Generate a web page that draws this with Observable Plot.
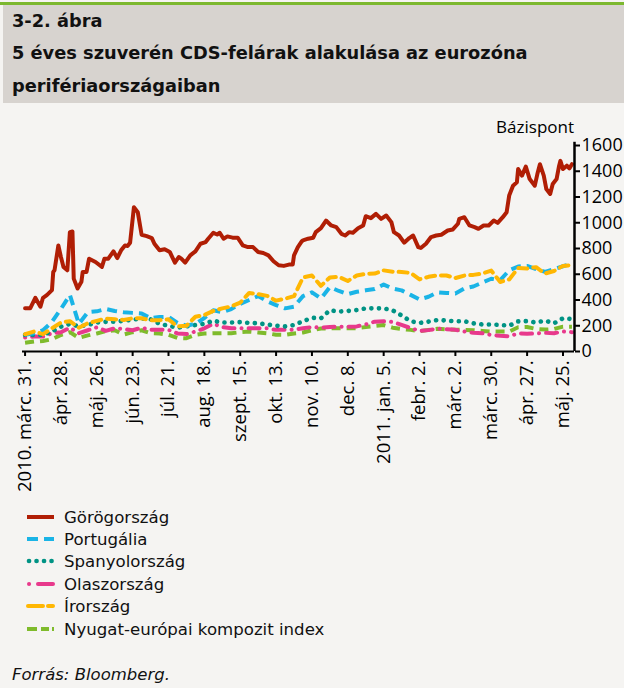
<!DOCTYPE html>
<html><head><meta charset="utf-8">
<script src="https://cdn.jsdelivr.net/npm/d3@7"></script>
<script src="https://cdn.jsdelivr.net/npm/@observablehq/plot@0.6"></script>
<style>
body{margin:0;background:#f5f4f2;width:624px;height:688px;position:relative;overflow:hidden;font-family:"DejaVu Sans",sans-serif;color:#111;}
#topline{position:absolute;left:0;top:2px;width:624px;height:3px;background:#7cb82f;}
#header{position:absolute;left:3px;top:5px;width:621px;height:98px;background:#d7d3cf;}
.t{position:absolute;left:9px;font-weight:bold;font-size:17.8px;white-space:nowrap;line-height:20px;}
#chart{position:absolute;left:0;top:110px;}
#unit{position:absolute;right:50px;top:115px;font-family:"Open Sans";font-size:17px;color:#000;}
.lg{position:absolute;left:26px;height:20px;display:flex;align-items:center;font-size:16.6px;white-space:nowrap;}
.lg svg{margin-right:8px;}
#src{position:absolute;left:12px;top:665px;font-style:italic;font-size:16.5px;}
</style></head>
<body>
<div id="topline"></div>
<div id="header">
  <div class="t" style="top:6px">3-2. ábra</div>
  <div class="t" style="top:38px">5 éves szuverén CDS-felárak alakulása az eurozóna</div>
  <div class="t" style="top:71px">perifériaországaiban</div>
</div>
<div id="unit">Bázispont</div>
<div id="chart"></div>
<div id="legend"></div>
<div id="src">Forrás: Bloomberg.</div>
<script>
// ---- data ----
const tickDates = ["2010-03-31","2010-04-28","2010-05-26","2010-06-23","2010-07-21","2010-08-18","2010-09-15","2010-10-13","2010-11-10","2010-12-08","2011-01-05","2011-02-02","2011-03-02","2011-03-30","2011-04-27","2011-05-25"];
const tickLabels = ["2010. márc. 31.","ápr. 28.","máj. 26.","jún. 23.","júl. 21.","aug. 18.","szept. 15.","okt. 13.","nov. 10.","dec. 8.","2011. jan. 5.","febr. 2.","márc. 2.","márc. 30.","ápr. 27.","máj. 25."];
const yTicks = [0,200,400,600,800,1000,1200,1400,1600];

const greeceDates = ["2010-03-31","2010-04-04","2010-04-08","2010-04-12","2010-04-14","2010-04-17","2010-04-21","2010-04-22","2010-04-23","2010-04-26","2010-04-28","2010-04-30","2010-05-03","2010-05-05","2010-05-07","2010-05-08","2010-05-11","2010-05-14","2010-05-15","2010-05-18","2010-05-20","2010-05-25","2010-05-30","2010-06-01","2010-06-04","2010-06-08","2010-06-11","2010-06-14","2010-06-17","2010-06-19","2010-06-21","2010-06-24","2010-06-27","2010-06-30","2010-07-04","2010-07-08","2010-07-10","2010-07-14","2010-07-18","2010-07-22","2010-07-26","2010-07-29","2010-07-31","2010-08-03","2010-08-07","2010-08-11","2010-08-15","2010-08-19","2010-08-21","2010-08-25","2010-08-28","2010-08-30","2010-09-02","2010-09-05","2010-09-09","2010-09-13","2010-09-17","2010-09-21","2010-09-25","2010-09-29","2010-10-03","2010-10-07","2010-10-11","2010-10-15","2010-10-19","2010-10-23","2010-10-26","2010-10-27","2010-10-30","2010-11-02","2010-11-03","2010-11-07","2010-11-11","2010-11-13","2010-11-17","2010-11-21","2010-11-25","2010-11-29","2010-12-03","2010-12-06","2010-12-09","2010-12-12","2010-12-16","2010-12-20","2010-12-22","2010-12-26","2010-12-30","2011-01-03","2011-01-07","2011-01-11","2011-01-13","2011-01-17","2011-01-21","2011-01-25","2011-01-28","2011-02-01","2011-02-03","2011-02-07","2011-02-11","2011-02-15","2011-02-19","2011-02-24","2011-02-28","2011-03-04","2011-03-05","2011-03-09","2011-03-13","2011-03-17","2011-03-20","2011-03-24","2011-03-28","2011-04-01","2011-04-04","2011-04-08","2011-04-11","2011-04-13","2011-04-16","2011-04-19","2011-04-20","2011-04-23","2011-04-26","2011-04-29","2011-05-03","2011-05-05","2011-05-07","2011-05-10","2011-05-12","2011-05-15","2011-05-17","2011-05-20","2011-05-22","2011-05-23","2011-05-25","2011-05-28","2011-05-30","2011-06-01"];
const greece = [335,335,417,348,417,438,477,618,631,824,734,657,631,927,932,566,489,541,618,618,721,695,657,721,721,778,726,786,824,819,845,1120,1082,907,896,881,837,786,794,773,690,734,721,690,747,778,837,850,876,922,909,922,876,894,884,884,824,811,811,773,765,747,701,670,665,675,675,747,811,855,863,876,884,927,958,1017,979,966,914,901,927,922,958,979,1051,1036,1069,1030,1056,1005,927,901,845,881,901,811,804,837,889,901,907,940,948,992,1030,1043,979,966,953,979,979,1017,999,1043,1082,1211,1288,1314,1417,1366,1437,1339,1288,1378,1455,1366,1262,1224,1301,1339,1443,1481,1417,1443,1422,1455];

const weekDates = ["2010-03-31","2010-04-07","2010-04-14","2010-04-21","2010-04-28","2010-05-05","2010-05-12","2010-05-19","2010-05-26","2010-06-02","2010-06-09","2010-06-16","2010-06-23","2010-06-30","2010-07-07","2010-07-14","2010-07-21","2010-07-28","2010-08-04","2010-08-11","2010-08-18","2010-08-25","2010-09-01","2010-09-08","2010-09-15","2010-09-22","2010-09-29","2010-10-06","2010-10-13","2010-10-20","2010-10-27","2010-11-03","2010-11-10","2010-11-17","2010-11-24","2010-12-01","2010-12-08","2010-12-15","2010-12-22","2010-12-29","2011-01-05","2011-01-12","2011-01-19","2011-01-26","2011-02-02","2011-02-09","2011-02-16","2011-02-23","2011-03-02","2011-03-09","2011-03-16","2011-03-23","2011-03-30","2011-04-06","2011-04-13","2011-04-20","2011-04-27","2011-05-04","2011-05-11","2011-05-18","2011-05-25","2011-06-01"];
const portugal = [129,142,165,230,330,440,215,305,312,330,315,305,300,296,258,268,270,222,200,215,260,320,305,330,370,400,430,390,360,335,348,430,460,412,500,470,445,464,475,485,520,489,475,440,405,425,460,455,450,490,505,535,565,555,630,660,665,640,618,640,662,682];
const spain = [129,129,129,155,193,215,195,206,225,230,232,238,248,255,250,215,200,185,195,206,215,240,225,225,228,222,219,210,200,195,206,235,262,258,320,310,315,322,335,335,335,320,280,235,222,232,245,240,234,235,219,210,210,206,200,234,236,225,240,219,258,252];
const italy = [108,116,116,142,150,185,142,165,188,160,180,175,165,185,168,168,168,140,135,155,180,215,190,180,180,180,180,180,168,168,170,180,190,185,190,193,193,195,210,232,235,230,206,182,160,166,178,172,168,155,145,142,128,122,118,140,138,140,145,142,155,150];
const ireland = [134,155,135,180,225,235,185,220,238,255,250,245,258,258,243,243,250,195,200,270,284,315,335,350,380,455,445,432,395,410,430,575,590,510,575,580,548,590,603,605,630,620,618,610,560,580,592,590,570,590,595,605,628,540,560,648,645,655,605,625,665,670];
const composite = [68,77,82,95,128,150,105,125,140,158,165,132,150,165,142,140,129,105,103,130,140,142,142,142,150,155,148,142,130,129,140,148,165,178,180,180,180,180,190,198,205,185,175,168,158,168,176,172,168,168,165,160,155,155,155,188,190,175,170,175,193,193];

const seriesNames = ["Görögország","Portugália","Spanyolország","Olaszország","Írország","Nyugat-európai kompozit index"];
const seriesColors = ["#b01e05","#1ab4e6","#009384","#e8398c","#ffb703","#7fbb2c"];

// ---- build ----
const parse = s => new Date(s + "T00:00:00Z");
const styles = [
  {dash: null, cap: "round", w: 4},
  {dash: "10,6", cap: "butt", w: 4},
  {dash: "0.1,7.5", cap: "round", w: 4.6},
  {dash: "0.1,7,11,7", cap: "round", w: 4},
  {dash: "9,6", cap: "round", w: 4},
  {dash: "9,6", cap: "butt", w: 4}
];
const tables = [
  greeceDates.map((d,i) => ({date: parse(d), v: greece[i]})),
  ...[portugal, spain, italy, ireland, composite].map(arr => weekDates.map((d,i) => ({date: parse(d), v: arr[i]})))
];
const order = [5,3,2,1,4,0];
const lineMarks = order.map(k => Plot.line(tables[k], {
  x: "date", y: "v", stroke: seriesColors[k], strokeWidth: styles[k].w,
  strokeDasharray: styles[k].dash, strokeLinecap: styles[k].cap, strokeLinejoin: "round"
}));

const xStart = parse("2010-03-29"), xEnd = parse("2011-06-03");
const labelMap = new Map(tickDates.map((d,i) => [+parse(d), tickLabels[i]]));

const chart = Plot.plot({
  width: 624, height: 400,
  marginLeft: 22, marginRight: 50, marginTop: 35, marginBottom: 159,
  style: {background: "transparent", fontFamily: "Open Sans", color: "#000", overflow: "visible"},
  x: {type: "utc", domain: [xStart, xEnd]},
  y: {domain: [0, 1600]},
  marks: [
    ...lineMarks,
    Plot.ruleY([0], {stroke: "#000", strokeWidth: 2}),
    Plot.ruleX([xEnd], {y1: 0, y2: 1625, stroke: "#000", strokeWidth: 2.5}),
    Plot.axisY({anchor: "right", ticks: yTicks, tickSize: 5, tickPadding: 2, strokeWidth: 2, label: null, fontSize: 18, tickFormat: d => String(d)}),
    Plot.axisX({ticks: tickDates.map(parse), tickFormat: d => labelMap.get(+d), tickRotate: -90, tickSize: 5, tickPadding: 4, strokeWidth: 2, label: null, fontSize: 18.5})
  ]
});
document.getElementById("chart").appendChild(chart);

// ---- legend ----
const swatches = [
  '<line x1="1" y1="5" x2="28" y2="5"/>',
  '<line x1="1" y1="5" x2="12" y2="5"/><line x1="18" y1="5" x2="28" y2="5"/>',
  '<g stroke-linecap="round" stroke-width="4.6"><line x1="3" y1="5" x2="3.1" y2="5"/><line x1="10.5" y1="5" x2="10.6" y2="5"/><line x1="18" y1="5" x2="18.1" y2="5"/><line x1="25.5" y1="5" x2="25.6" y2="5"/></g>',
  '<g stroke-linecap="round"><line x1="3" y1="5" x2="3.1" y2="5"/><line x1="12" y1="5" x2="27" y2="5"/></g>',
  '<g stroke-linecap="round"><line x1="2" y1="5" x2="17" y2="5"/><line x1="22" y1="5" x2="27" y2="5"/></g>',
  '<line x1="1" y1="5" x2="11" y2="5"/><line x1="15" y1="5" x2="23" y2="5"/><line x1="26" y1="5" x2="28" y2="5"/>'
];
const legendTop = [507, 529, 551, 574, 596, 619];
const lg = document.getElementById("legend");
seriesNames.forEach((name, i) => {
  const div = document.createElement("div");
  div.className = "lg";
  div.style.top = legendTop[i] + "px";
  div.innerHTML = `<svg width="30" height="10" stroke="${seriesColors[i]}" stroke-width="4">${swatches[i]}</svg><span>${name}</span>`;
  lg.appendChild(div);
});
</script>
</body></html>
